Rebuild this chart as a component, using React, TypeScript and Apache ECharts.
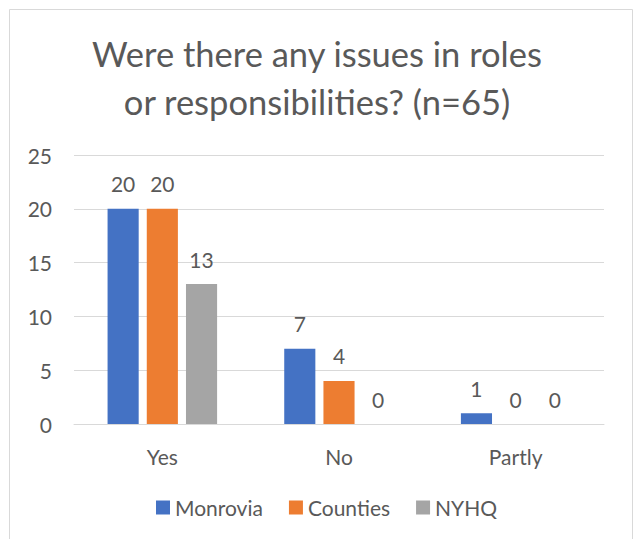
import React, { useEffect, useRef } from "react";
import * as echarts from "echarts";

const categories = ["Yes", "No", "Partly"];
const monrovia = [20, 7, 1];
const counties = [20, 4, 0];
const nyhq = [13, 0, 0];
const seriesNames = ["Monrovia", "Counties", "NYHQ"];
const colors = ["#4472C4", "#ED7D31", "#A5A5A5"];
const titleText = "Were there any issues in roles\nor responsibilities? (n=65)";

const FONT = "Lato";
const TXT = "#595959";

export default function App() {
  const ref = useRef<HTMLDivElement>(null);
  useEffect(() => {
    if (!ref.current) return;
    const chart = echarts.init(ref.current, null, { renderer: "svg" });
    const data = [monrovia, counties, nyhq];
    chart.setOption({
      animation: false,
      backgroundColor: "#ffffff",
      textStyle: { fontFamily: FONT },
      graphic: [
        {
          type: "rect",
          shape: { x: 9.5, y: 9.5, width: 623, height: 545 },
          style: { fill: "none", stroke: "#D9D9D9", lineWidth: 1 },
          silent: true,
        },
      ],
      title: {
        text: titleText,
        left: "center",
        top: 24,
        textStyle: {
          fontFamily: FONT,
          fontSize: 34.5,
          fontWeight: "normal",
          color: TXT,
          lineHeight: 48,
        },
      },
      legend: {
        bottom: 16,
        left: 151,
        itemWidth: 14,
        itemHeight: 14,
        itemGap: 26,
        icon: "rect",
        textStyle: { fontFamily: FONT, fontSize: 21, color: TXT },
        data: seriesNames,
      },
      grid: { left: 74, right: 30, top: 155, bottom: 115 },
      xAxis: {
        type: "category",
        data: categories,
        axisLine: { show: true, lineStyle: { color: "#D9D9D9" } },
        axisTick: { show: false },
        axisLabel: { fontFamily: FONT, fontSize: 21, color: TXT, margin: 22 },
      },
      yAxis: {
        type: "value",
        min: 0,
        max: 25,
        interval: 5,
        axisLine: { show: false },
        axisTick: { show: false },
        splitLine: { lineStyle: { color: "#D9D9D9" } },
        axisLabel: { fontFamily: FONT, fontSize: 21, color: TXT, margin: 22 },
      },
      series: seriesNames.map((name, i) => ({
        name,
        type: "bar",
        data: data[i],
        barGap: "26%",
        barCategoryGap: "38%",
        itemStyle: { color: colors[i] },
        label: {
          show: true,
          position: "top",
          distance: 14.5,
          fontFamily: FONT,
          fontSize: 21,
          color: TXT,
        },
      })),
    });
    return () => chart.dispose();
  }, []);
  return (
    <div
      ref={ref}
      style={{ position: "absolute", left: 0, top: 0, width: 634, height: 539 }}
    />
  );
}
